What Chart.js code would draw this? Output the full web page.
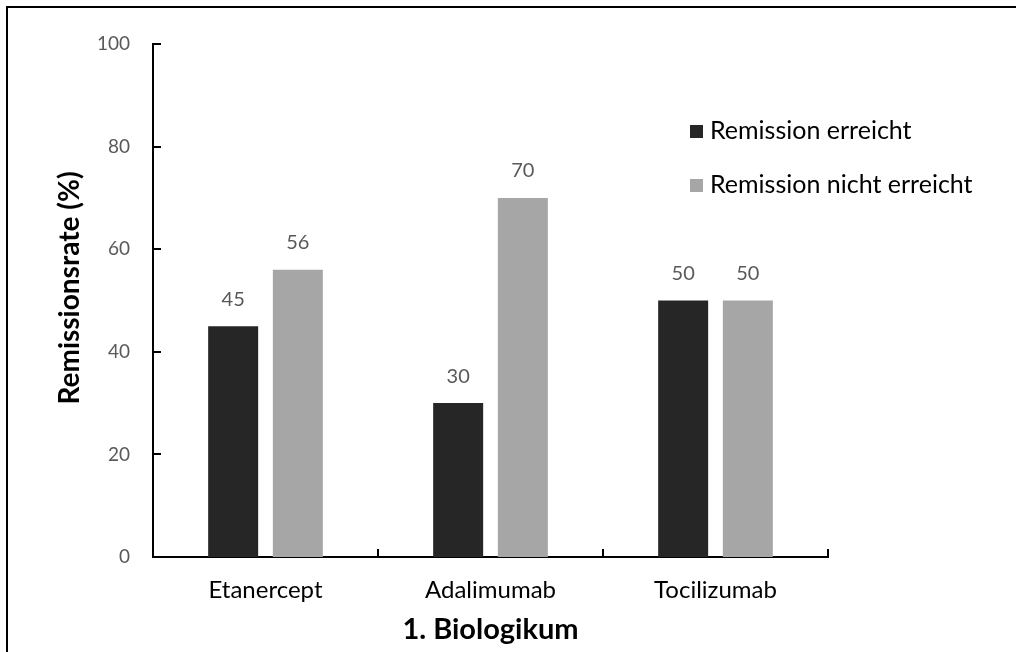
<!DOCTYPE html>
<html>
<head>
<meta charset="utf-8">
<script src="https://cdn.jsdelivr.net/npm/chart.js@4/dist/chart.umd.min.js"></script>
<style>
  html, body { margin: 0; padding: 0; background: #ffffff; }
  #wrap { width: 1016px; height: 652px; position: relative; }
</style>
</head>
<body>
<div id="wrap"><canvas id="chart" width="1016" height="652"></canvas></div>
<script>
// Remission rates by first biologic
const categories = ['Etanercept', 'Adalimumab', 'Tocilizumab'];
const seriesNames = ['Remission erreicht', 'Remission nicht erreicht'];
const remissionReached = [45, 30, 50];
const remissionNotReached = [56, 70, 50];
const yTickValues = [0, 20, 40, 60, 80, 100];
const xAxisTitle = '1. Biologikum';
const yAxisTitle = 'Remissionsrate (%)';

const FONT = 'Lato, "Open Sans", sans-serif';
const COLORS = ['#262626', '#a6a6a6'];

// Frame, inward tick marks, value labels, legend and axis titles
const decorations = {
  id: 'decorations',
  afterDraw(chart) {
    const { ctx, chartArea, scales } = chart;
    const x = scales.x, y = scales.y;
    ctx.save();

    // outer frame (top and left edges)
    ctx.strokeStyle = '#000000';
    ctx.lineWidth = 2;
    ctx.beginPath();
    ctx.moveTo(7, chart.height);
    ctx.lineTo(7, 7);
    ctx.lineTo(chart.width, 7);
    ctx.stroke();

    // inward tick marks on the value axis
    ctx.lineWidth = 2;
    y.ticks.forEach(t => {
      const py = Math.round(y.getPixelForValue(t.value));
      ctx.beginPath();
      ctx.moveTo(chartArea.left, py);
      ctx.lineTo(chartArea.left + 8, py);
      ctx.stroke();
    });

    // inward tick marks between categories
    for (let i = 0; i <= categories.length; i++) {
      const px = Math.round(x.getPixelForValue(i - 0.5));
      ctx.beginPath();
      ctx.moveTo(px, chartArea.bottom);
      ctx.lineTo(px, chartArea.bottom - 8);
      ctx.stroke();
    }

    // value labels above bars
    ctx.fillStyle = '#595959';
    ctx.font = '20px ' + FONT;
    ctx.textAlign = 'center';
    ctx.textBaseline = 'middle';
    chart.data.datasets.forEach((ds, di) => {
      chart.getDatasetMeta(di).data.forEach((bar, i) => {
        ctx.fillText(String(ds.data[i]), bar.x, bar.y - 27);
      });
    });

    // legend
    ctx.font = '25px ' + FONT;
    ctx.textAlign = 'left';
    const legendY = [131, 185];
    chart.data.datasets.forEach((ds, di) => {
      ctx.fillStyle = ds.backgroundColor;
      ctx.fillRect(690, legendY[di] - 6, 13, 13);
      ctx.fillStyle = '#000000';
      ctx.fillText(ds.label, 710, legendY[di]);
    });

    // axis titles
    ctx.fillStyle = '#000000';
    ctx.font = 'bold 29px ' + FONT;
    ctx.textAlign = 'center';
    ctx.fillText(xAxisTitle, (chartArea.left + chartArea.right) / 2, 630);
    ctx.font = 'bold 28px ' + FONT;
    ctx.translate(70, 288);
    ctx.rotate(-Math.PI / 2);
    ctx.fillText(yAxisTitle, 0, 0);

    ctx.restore();
  }
};

new Chart(document.getElementById('chart'), {
  type: 'bar',
  data: {
    labels: categories,
    datasets: [
      { label: seriesNames[0], data: remissionReached, backgroundColor: COLORS[0] },
      { label: seriesNames[1], data: remissionNotReached, backgroundColor: COLORS[1] }
    ]
  },
  options: {
    responsive: false,
    devicePixelRatio: 1,
    animation: false,
    events: [],
    datasets: { bar: { categoryPercentage: 0.575, barPercentage: 0.773 } },
    layout: { padding: { top: 44, right: 188, bottom: 0, left: 0 } },
    plugins: { legend: { display: false }, tooltip: { enabled: false } },
    scales: {
      x: {
        offset: true,
        grid: { display: false, drawTicks: false },
        border: { display: true, color: '#000000', width: 2 },
        ticks: { color: '#000000', font: { family: FONT, size: 24 }, padding: 19 },
        afterFit(scale) { scale.height = 95; }
      },
      y: {
        min: 0,
        max: 100,
        afterBuildTicks(scale) { scale.ticks = yTickValues.map(v => ({ value: v })); },
        grid: { display: false, drawTicks: false },
        border: { display: true, color: '#000000', width: 2 },
        ticks: { color: '#595959', font: { family: FONT, size: 19 }, padding: 23 },
        afterFit(scale) { scale.width = 153; }
      }
    }
  },
  plugins: [decorations]
});
</script>
</body>
</html>
